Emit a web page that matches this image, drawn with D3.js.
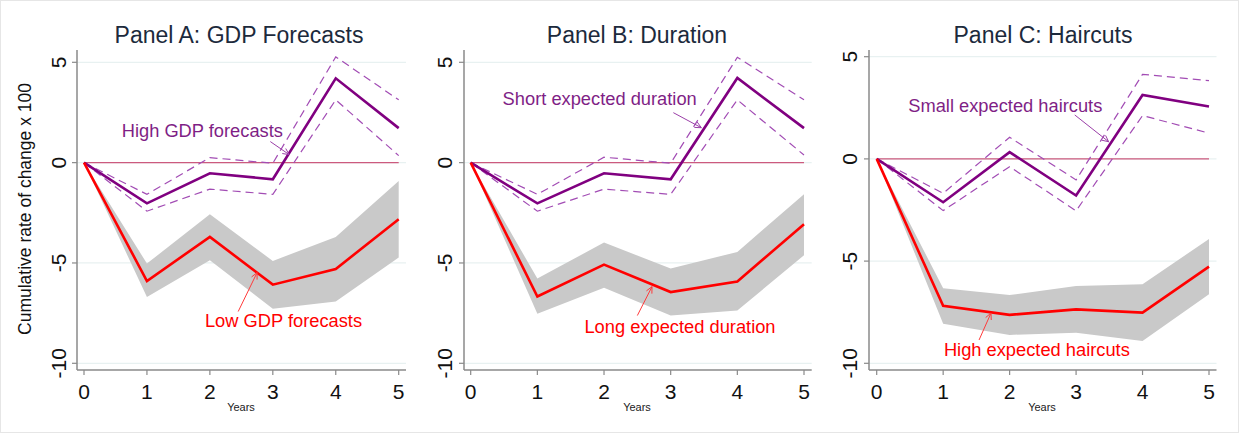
<!DOCTYPE html>
<html><head><meta charset="utf-8">
<script src="https://cdn.jsdelivr.net/npm/d3@7"></script>
<style>body{margin:0;background:#fff}svg{display:block}text{font-family:"Liberation Sans",Arial,sans-serif}</style>
</head><body>
<script>
const years = [0,1,2,3,4,5];
const xTickLabels = ["0","1","2","3","4","5"];
const yTicks = [-10,-5,0,5];
const yTickLabels = ["-10","-5","0","5"];
const titles = ["Panel A: GDP Forecasts","Panel B: Duration","Panel C: Haircuts"];
const highNames = ["High GDP forecasts","Short expected duration","Small expected haircuts"];
const lowNames = ["Low GDP forecasts","Long expected duration","High expected haircuts"];

// Panel A
const aHigh   = [0,-2.03,-0.53,-0.83,4.20,1.72];
const aHighUp = [0,-1.58, 0.25,-0.03,5.27,3.13];
const aHighLo = [0,-2.42,-1.32,-1.58,3.13,0.35];
const aLow    = [0,-5.90,-3.70,-6.08,-5.30,-2.82];
const aLowUp  = [0,-5.03,-2.57,-4.90,-3.70,-0.92];
const aLowLo  = [0,-6.70,-4.87,-7.28,-6.92,-4.73];
// Panel B
const bHigh   = [0,-2.03,-0.53,-0.83,4.22,1.72];
const bHighUp = [0,-1.58, 0.27,-0.03,5.25,3.13];
const bHighLo = [0,-2.42,-1.32,-1.58,3.13,0.38];
const bLow    = [0,-6.67,-5.08,-6.45,-5.92,-3.07];
const bLowUp  = [0,-5.78,-3.98,-5.28,-4.45,-1.57];
const bLowLo  = [0,-7.53,-6.23,-7.62,-7.37,-4.62];
// Panel C
const cHigh   = [0,-2.12, 0.33,-1.79,3.13,2.56];
const cHighUp = [0,-1.68, 1.06,-1.03,4.14,3.83];
const cHighLo = [0,-2.53,-0.38,-2.54,2.12,1.26];
const cLow    = [0,-7.19,-7.63,-7.36,-7.52,-5.27];
const cLowUp  = [0,-6.33,-6.66,-6.22,-6.13,-3.92];
const cLowLo  = [0,-8.07,-8.61,-8.50,-8.91,-6.62];

// label anchors in data units [year, value]
const highLabelPos = [[1.88,1.59],[1.935,3.19],[1.935,2.59]];
const lowLabelPos  = [[3.17,-7.87],[3.14,-8.17],[2.41,-9.35]];
const highArrows = [[[2.96,1.05],[3.26,0.40]],[[3.04,2.49],[3.46,1.74]],[[2.98,2.15],[3.49,0.84]]];
const lowArrows  = [[[2.45,-7.42],[2.75,-5.48]],[[2.50,-7.62],[2.72,-6.18]],[[1.54,-8.86],[1.72,-7.54]]];

const series = [
  {high:aHigh,hu:aHighUp,hl:aHighLo,low:aLow,lu:aLowUp,ll:aLowLo},
  {high:bHigh,hu:bHighUp,hl:bHighLo,low:bLow,lu:bLowUp,ll:bLowLo},
  {high:cHigh,hu:cHighUp,hl:cHighLo,low:cLow,lu:cLowUp,ll:cLowLo}
];

// layout
const layout = [
  {axisX:77,  x0:84,    x5:398.7, right:406,   yBot:363.3, yTop:62.3, tickLX:58,  titleX:239,  yearsX:241},
  {axisX:464, x0:470.7, x5:804,   right:811.7, yBot:363.3, yTop:62.3, tickLX:444, titleX:637,  yearsX:637},
  {axisX:869, x0:876.7, x5:1209,  right:1216.5,yBot:363.3, yTop:56.7, tickLX:849, titleX:1043, yearsX:1042}
];
const plotTop = 50, plotBot = 370;

const W = 1239, H = 433;
const svg = d3.select("body").append("svg").attr("width",W).attr("height",H);
svg.append("rect").attr("x",0.5).attr("y",0.5).attr("width",W-1).attr("height",H-1)
  .attr("fill","#fff").attr("stroke","#e6e6e6");

const PURPLE="#800080", DPURPLE="#a24cb4", RED="#ff0000", ZERO="#cc5a7e", GRAY="#c9c9c9", AX="#8a8a8a";

function arrow(g, p1, p2, color){
  g.append("line").attr("x1",p1[0]).attr("y1",p1[1]).attr("x2",p2[0]).attr("y2",p2[1])
    .attr("stroke",color).attr("stroke-width",1);
  const ang = Math.atan2(p2[1]-p1[1], p2[0]-p1[0]);
  const L = 7, a = 0.45;
  [ang+Math.PI-a, ang+Math.PI+a].forEach(t=>{
    g.append("line").attr("x1",p2[0]).attr("y1",p2[1])
      .attr("x2",p2[0]+L*Math.cos(t)).attr("y2",p2[1]+L*Math.sin(t))
      .attr("stroke",color).attr("stroke-width",1);
  });
}

layout.forEach((L,i)=>{
  const s = series[i];
  const x = d3.scaleLinear().domain([0,5]).range([L.x0,L.x5]);
  const y = d3.scaleLinear().domain([-10,5]).range([L.yBot,L.yTop]);
  const g = svg.append("g");

  // gridlines
  g.selectAll("line.grid").data(yTicks).enter().append("line")
    .attr("x1",L.axisX).attr("x2",L.right).attr("y1",d=>y(d)).attr("y2",d=>y(d))
    .attr("stroke","#e8f1f1").attr("stroke-width",1.2);

  // band
  const area = d3.area().x((d,j)=>x(years[j])).y0(d=>y(d[0])).y1(d=>y(d[1]));
  g.append("path").datum(years.map((yy,j)=>[s.ll[j],s.lu[j]])).attr("d",area).attr("fill",GRAY);

  // zero line
  g.append("line").attr("x1",x(0)).attr("x2",x(5)).attr("y1",y(0)).attr("y2",y(0))
    .attr("stroke",ZERO).attr("stroke-width",1.4);

  const line = d3.line().x((d,j)=>x(years[j])).y(d=>y(d));
  [s.hu,s.hl].forEach(arr=>{
    g.append("path").datum(arr).attr("d",line).attr("fill","none")
      .attr("stroke",DPURPLE).attr("stroke-width",1.2).attr("stroke-dasharray","8,5");
  });
  g.append("path").datum(s.high).attr("d",line).attr("fill","none")
    .attr("stroke",PURPLE).attr("stroke-width",2.6).attr("stroke-linejoin","miter");
  g.append("path").datum(s.low).attr("d",line).attr("fill","none")
    .attr("stroke",RED).attr("stroke-width",2.6).attr("stroke-linejoin","miter");

  // axes
  g.append("line").attr("x1",L.axisX).attr("x2",L.axisX).attr("y1",plotTop).attr("y2",plotBot)
    .attr("stroke",AX).attr("stroke-width",1.5);
  g.append("line").attr("x1",L.axisX).attr("x2",L.right).attr("y1",plotBot).attr("y2",plotBot)
    .attr("stroke",AX).attr("stroke-width",1.5);
  years.forEach((yr,j)=>{
    g.append("line").attr("x1",x(yr)).attr("x2",x(yr)).attr("y1",plotBot).attr("y2",plotBot+5)
      .attr("stroke",AX).attr("stroke-width",1.2);
    g.append("text").attr("x",x(yr)).attr("y",plotBot+29).attr("text-anchor","middle")
      .attr("font-size",21).attr("fill","#111").text(xTickLabels[j]);
  });
  yTicks.forEach((v,j)=>{
    g.append("line").attr("x1",L.axisX-5).attr("x2",L.axisX).attr("y1",y(v)).attr("y2",y(v))
      .attr("stroke",AX).attr("stroke-width",1.2);
    g.append("text").attr("transform",`translate(${L.tickLX+7.5},${y(v)}) rotate(-90)`)
      .attr("text-anchor","middle").attr("font-size",21).attr("fill","#111").text(yTickLabels[j]);
  });

  // titles
  g.append("text").attr("x",L.titleX).attr("y",43).attr("text-anchor","middle")
    .attr("font-size",23).attr("fill","#1c2a3c").text(titles[i]);
  g.append("text").attr("x",L.yearsX).attr("y",411).attr("text-anchor","middle")
    .attr("font-size",11).attr("fill","#222").text("Years");

  // labels
  g.append("text").attr("x",x(highLabelPos[i][0])).attr("y",y(highLabelPos[i][1])+6.3)
    .attr("text-anchor","middle").attr("font-size",18.3).attr("fill","#7f1f86").text(highNames[i]);
  g.append("text").attr("x",x(lowLabelPos[i][0])).attr("y",y(lowLabelPos[i][1])+6.3)
    .attr("text-anchor","middle").attr("font-size",18.3).attr("fill",RED).text(lowNames[i]);
  arrow(g,[x(highArrows[i][0][0]),y(highArrows[i][0][1])],[x(highArrows[i][1][0]),y(highArrows[i][1][1])],"#9b3fa8");
  arrow(g,[x(lowArrows[i][0][0]),y(lowArrows[i][0][1])],[x(lowArrows[i][1][0]),y(lowArrows[i][1][1])],"#ff3b3b");
});

svg.append("text").attr("transform","translate(31,209) rotate(-90)").attr("text-anchor","middle")
  .attr("font-size",17.5).attr("fill","#111").text("Cumulative rate of change x 100");
</script>
</body></html>
